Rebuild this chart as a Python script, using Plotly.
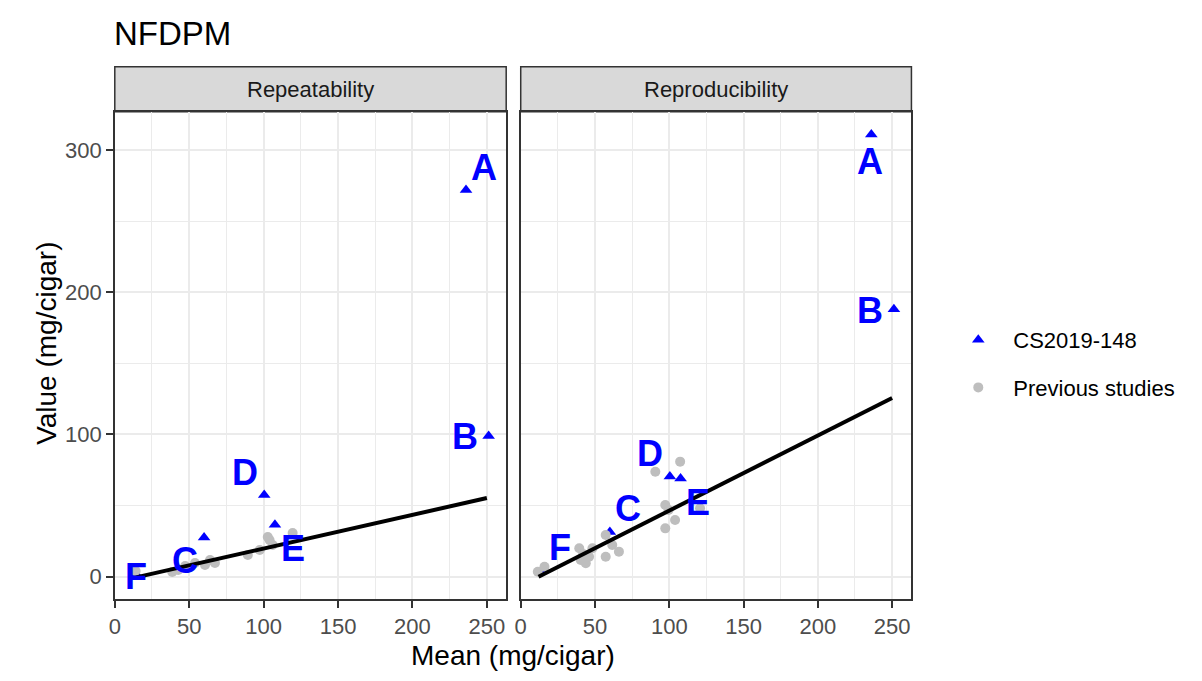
import plotly.graph_objects as go

# ---------------- data ----------------
labels = ["A", "B", "C", "D", "E", "F"]
cs_mean = [236.0, 251.2, 60.0, 100.4, 107.6, 14.5]
cs_repeat = [272.0, 99.0, 27.5, 57.5, 36.5, 1.5]
cs_reprod = [311.0, 188.0, 31.5, 70.5, 69.0, 4.4]

prev_rep_x = [14.0, 38.6, 42.6, 47.3, 53.9, 60.6, 64.0, 67.3, 89.4, 97.4, 102.8, 104.0, 106.1, 119.5]
prev_rep_y = [4.0, 3.3, 4.7, 7.5, 9.6, 8.2, 11.7, 9.6, 15.3, 18.8, 27.9, 25.8, 22.3, 30.7]

prev_repro_x = [11.5, 16.0, 39.4, 40.4, 42.0, 43.8, 46.0, 48.3, 57.2, 57.2, 61.6, 66.1,
                90.6, 107.3, 97.3, 103.9, 97.3, 120.7, 99.5]
prev_repro_y = [3.5, 7.0, 20.0, 11.7, 16.0, 9.4, 14.0, 20.0, 29.3, 14.0, 22.3, 17.6,
                73.8, 80.9, 50.4, 39.9, 34.0, 48.1, 46.9]

fit_x = [12.0, 250.0]
fit_repeat = [-1.0, 55.3]
fit_reprod = [0.0, 125.7]

x_ticks = [0, 50, 100, 150, 200, 250]
y_ticks = [0, 100, 200, 300]

# label offsets in pixels (style, not data)
off_rep = {"A": (18, 22), "B": (-23.5, -0.7), "C": (-19, -23), "D": (-19.2, 22.7),
           "E": (17.7, -23.3), "F": (0, -2.4)}
off_repro = {"A": (-1, -27.5), "B": (-23.7, -1.2), "C": (18, 23), "D": (-19.6, 23),
             "E": (17.5, -23.8), "F": (18, 23)}

# page has an 8px body margin; figure sized to fit inside the window
OFF = 8
W, H = 1202 - 2 * OFF, 681 - 2 * OFF
FONT = "Arial, Liberation Sans, sans-serif"
BLUE = "#0000FF"
GREY = "#BEBEBE"


def px_x(p):
    return (p - OFF) / W


def px_y(p):
    return (H - (p - OFF)) / H


fig = go.Figure()

# triangles
fig.add_trace(go.Scatter(x=cs_mean, y=cs_repeat, mode="markers", name="CS2019-148",
                         marker=dict(symbol="triangle-up", size=11, color=BLUE),
                         xaxis="x", yaxis="y", legendgroup="cs", legendrank=1))
fig.add_trace(go.Scatter(x=cs_mean, y=cs_reprod, mode="markers", name="CS2019-148",
                         marker=dict(symbol="triangle-up", size=11, color=BLUE),
                         xaxis="x2", yaxis="y2", legendgroup="cs", showlegend=False))
# previous studies
fig.add_trace(go.Scatter(x=prev_rep_x, y=prev_rep_y, mode="markers", name="Previous studies",
                         marker=dict(symbol="circle", size=10, color=GREY),
                         xaxis="x", yaxis="y", legendgroup="prev", legendrank=2))
fig.add_trace(go.Scatter(x=prev_repro_x, y=prev_repro_y, mode="markers", name="Previous studies",
                         marker=dict(symbol="circle", size=10, color=GREY),
                         xaxis="x2", yaxis="y2", legendgroup="prev", showlegend=False))
# fitted lines
fig.add_trace(go.Scatter(x=fit_x, y=fit_repeat, mode="lines", line=dict(color="black", width=4),
                         xaxis="x", yaxis="y", showlegend=False, hoverinfo="skip"))
fig.add_trace(go.Scatter(x=fit_x, y=fit_reprod, mode="lines", line=dict(color="black", width=4),
                         xaxis="x2", yaxis="y2", showlegend=False, hoverinfo="skip"))

annotations = []
for lab, mx, vy in zip(labels, cs_mean, cs_repeat):
    dx, dy = off_rep[lab]
    annotations.append(dict(x=mx, y=vy, xref="x", yref="y", text=lab, showarrow=False,
                            xshift=dx, yshift=dy,
                            font=dict(family=FONT, size=36, color=BLUE, weight="bold")))
for lab, mx, vy in zip(labels, cs_mean, cs_reprod):
    dx, dy = off_repro[lab]
    annotations.append(dict(x=mx, y=vy, xref="x2", yref="y2", text=lab, showarrow=False,
                            xshift=dx, yshift=dy,
                            font=dict(family=FONT, size=36, color=BLUE, weight="bold")))

# panels geometry (reference pixel coordinates)
xl = (109.3, 502.7)
xr = (517.3, 910.0)
y_bot, y_top = 599.3, 111.7
strip_top = 66.7

# strips
shapes = []
for (a, b), txt in [(xl, "Repeatability"), (xr, "Reproducibility")]:
    shapes.append(dict(type="rect", xref="paper", yref="paper", x0=px_x(a), x1=px_x(b),
                       y0=px_y(y_top), y1=px_y(strip_top), fillcolor="#D9D9D9",
                       line=dict(color="#333333", width=1.5), layer="below"))
    annotations.append(dict(x=px_x((a + b) / 2), y=px_y((y_top + strip_top) / 2),
                            xref="paper", yref="paper", text=txt, showarrow=False,
                            xanchor="center", yanchor="middle",
                            font=dict(family=FONT, size=22, color="#1A1A1A")))

# titles
annotations.append(dict(x=px_x(107), y=px_y(33), xref="paper", yref="paper", text="NFDPM",
                        showarrow=False, xanchor="left", yanchor="middle",
                        font=dict(family=FONT, size=33, color="black")))
annotations.append(dict(x=px_x(510), y=px_y(655), xref="paper", yref="paper",
                        text="Mean (mg/cigar)", showarrow=False, xanchor="center", yanchor="middle",
                        font=dict(family=FONT, size=28, color="black")))
annotations.append(dict(x=px_x(40), y=px_y(343), xref="paper", yref="paper",
                        text="Value (mg/cigar)", showarrow=False, xanchor="center", yanchor="middle",
                        textangle=-90, font=dict(family=FONT, size=28, color="black")))

axis_common = dict(
    showline=True, mirror=True, linecolor="#333333", linewidth=1.5,
    showgrid=True, gridcolor="#EBEBEB", gridwidth=2, zeroline=False,
    tickfont=dict(family=FONT, size=22, color="#4D4D4D"),
    ticks="outside", ticklen=7, tickcolor="#333333", tickwidth=1.5,
)

xaxis_cfg = dict(axis_common, range=[0, 263], tickvals=x_ticks,
                 minor=dict(tickvals=[25, 75, 125, 175, 225], showgrid=True,
                            gridcolor="#EBEBEB", gridwidth=1, ticklen=0))
yaxis_cfg = dict(axis_common, range=[-15.9, 327], tickvals=y_ticks,
                 minor=dict(tickvals=[50, 150, 250], showgrid=True,
                            gridcolor="#EBEBEB", gridwidth=1, ticklen=0))

fig.update_layout(
    width=W, height=H, autosize=False,
    margin=dict(l=0, r=0, t=0, b=0),
    paper_bgcolor="white", plot_bgcolor="white",
    font=dict(family=FONT),
    xaxis=dict(xaxis_cfg, domain=[px_x(xl[0]), px_x(xl[1])], anchor="y"),
    xaxis2=dict(xaxis_cfg, domain=[px_x(xr[0]), px_x(xr[1])], anchor="y2"),
    yaxis=dict(yaxis_cfg, domain=[px_y(y_bot), px_y(y_top)], anchor="x"),
    yaxis2=dict(yaxis_cfg, domain=[px_y(y_bot), px_y(y_top)], anchor="x2",
                matches="y", showticklabels=False, ticks=""),
    legend=dict(x=px_x(942), y=px_y(364), xanchor="left", yanchor="middle",
                font=dict(family=FONT, size=22, color="black"),
                itemwidth=60, tracegroupgap=16, traceorder="grouped",
                bgcolor="rgba(0,0,0,0)"),
    shapes=shapes,
    annotations=annotations,
    showlegend=True,
)

fig.write_html("out.html")
